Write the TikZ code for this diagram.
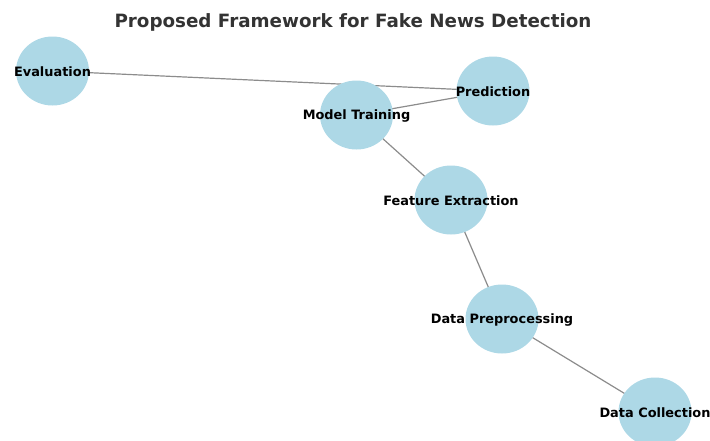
\documentclass[tikz,border=0pt]{standalone}
\usepackage{fontspec}
\setmainfont{DejaVu Sans}
\usetikzlibrary{shapes.geometric}
\definecolor{nodeblue}{HTML}{ADD8E6}
\definecolor{edgegray}{HTML}{8C8C8C}
\definecolor{titlegray}{HTML}{333333}
\begin{document}
\begin{tikzpicture}[x=1pt,y=-1pt,
  stage/.style={ellipse, fill=nodeblue, minimum width=73pt, minimum height=69pt, inner sep=0pt},
  lbl/.style={font=\fontsize{12.9}{14}\selectfont\bfseries, text=black, inner sep=0pt},
  link/.style={draw=edgegray, line width=1.2pt}]
\useasboundingbox (0,0) rectangle (710,440);
\clip (0,0) rectangle (710,440);
\node[font=\fontsize{18.3}{20}\selectfont\bfseries, text=titlegray] (title) at (353,22) {Proposed Framework for Fake News Detection};
% node positions
\coordinate (ev) at (52.5,71);
\coordinate (pr) at (493,91);
\coordinate (mt) at (356.5,115);
\coordinate (fe) at (451,200);
\coordinate (dp) at (502,319);
\coordinate (dc) at (655,412);
% edges
\draw[link] (ev) -- (pr);
\draw[link] (mt) -- (pr);
\draw[link] (mt) -- (fe);
\draw[link] (fe) -- (dp);
\draw[link] (dp) -- (dc);
% nodes
\node[stage] (evn) at (ev) {};
\node[stage] (prn) at (pr) {};
\node[stage] (mtn) at (mt) {};
\node[stage] (fen) at (fe) {};
\node[stage] (dpn) at (dp) {};
\node[stage] (dcn) at (dc) {};
% labels
\node[lbl] (evl) at ([yshift=-1pt]ev) {Evaluation};
\node[lbl] (prl) at ([yshift=-1pt]pr) {Prediction};
\node[lbl] (mtl) at ([yshift=-1pt]mt) {Model Training};
\node[lbl] (fel) at ([yshift=-1pt]fe) {Feature Extraction};
\node[lbl] (dpl) at ([yshift=-1pt]dp) {Data Preprocessing};
\node[lbl] (dcl) at ([yshift=-1pt]dc) {Data Collection};
\end{tikzpicture}
\end{document}
